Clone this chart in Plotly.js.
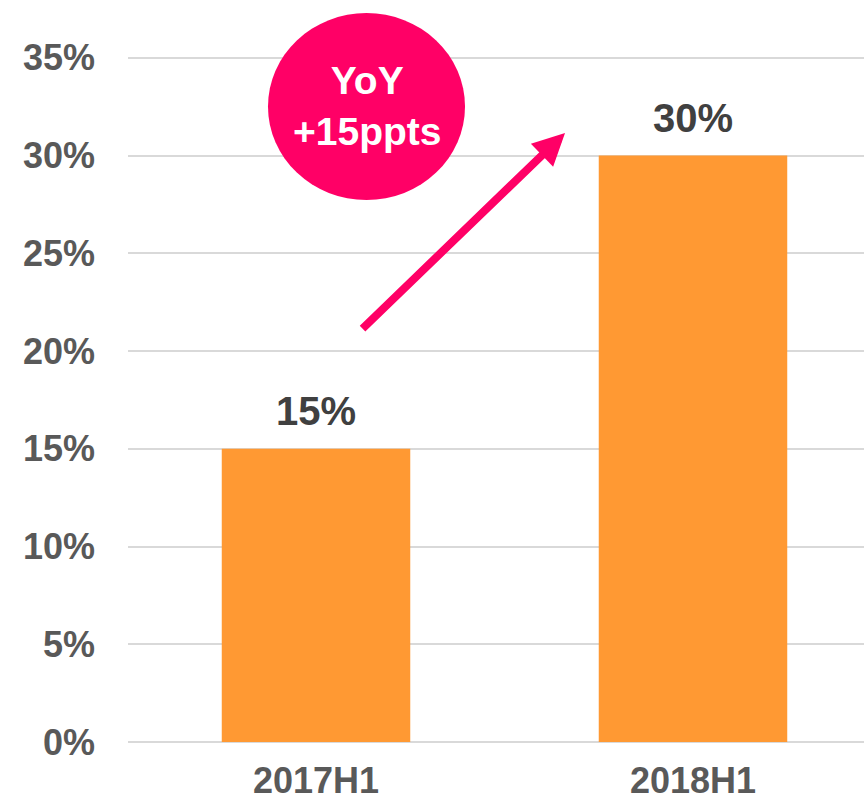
<!DOCTYPE html>
<html>
<head>
<meta charset="utf-8">
<script src="https://cdn.plot.ly/plotly-3.0.1.min.js"></script>
<style>html,body{margin:0;padding:0;background:#fff;}#chart{width:864px;height:803px;}</style>
</head>
<body>
<div id="chart"></div>
<script>
const categories = ["2017H1", "2018H1"];
const values = [15, 30];
const yTicks = [0, 5, 10, 15, 20, 25, 30, 35];
const yTickLabels = ["0%", "5%", "10%", "15%", "20%", "25%", "30%", "35%"];
const badgeText = "YoY<br>+15ppts";

const FONT = '"Liberation Sans", Arial, sans-serif';

const trace = {
  type: 'bar',
  x: categories,
  y: values,
  width: 0.5,
  marker: {color: '#FF9933'},
  cliponaxis: false,
  hoverinfo: 'none'
};

const valueLabels = categories.map((c, i) => ({
  xref: 'x', yref: 'y', x: c, y: values[i],
  text: values[i] + '%', showarrow: false,
  xanchor: 'center', yanchor: 'bottom', yshift: 14,
  font: {family: FONT, size: 40, color: '#404040', weight: 'bold'}
}));

const layout = {
  width: 864, height: 803,
  margin: {l: 128, r: 0, t: 52, b: 61},
  paper_bgcolor: '#fff', plot_bgcolor: '#fff',
  showlegend: false,
  xaxis: {
    type: 'category',
    range: [-0.4987, 1.4536],
    showgrid: false, zeroline: false, showline: false,
    ticks: '',
    ticklabelstandoff: 14,
    tickfont: {family: FONT, size: 36, color: '#595959', weight: 'bold'}
  },
  yaxis: {
    range: [0, 35.3],
    tickmode: 'array',
    tickvals: yTicks,
    ticktext: yTickLabels,
    showgrid: true, gridcolor: '#D9D9D9', gridwidth: 2,
    zeroline: true, zerolinecolor: '#D9D9D9', zerolinewidth: 2,
    showline: false, ticks: '',
    ticklabelstandoff: 32,
    tickfont: {family: FONT, size: 36, color: '#595959', weight: 'bold'}
  },
  shapes: [{
    type: 'circle', xref: 'paper', yref: 'paper',
    x0: 0.1902, x1: 0.4579, y0: 0.7855, y1: 1.0565,
    fillcolor: '#FF0066', line: {width: 0}, layer: 'above'
  }],
  annotations: valueLabels.concat([
    {
      xref: 'paper', yref: 'paper', x: 0.3247, y: 0.9217,
      text: badgeText, showarrow: false,
      font: {family: FONT, size: 39, color: '#FFFFFF', weight: 'bold'},
      xanchor: 'center', yanchor: 'middle', align: 'center'
    },
    {
      xref: 'paper', yref: 'paper', x: 0.5938, y: 0.8826,
      ax: -204, ay: 197, text: '', showarrow: true,
      arrowhead: 2, arrowsize: 0.8, arrowwidth: 8, arrowcolor: '#FF0066',
      standoff: 0, startstandoff: 0
    }
  ])
};

Plotly.newPlot('chart', [trace], layout, {staticPlot: true, displayModeBar: false});
</script>
</body>
</html>
